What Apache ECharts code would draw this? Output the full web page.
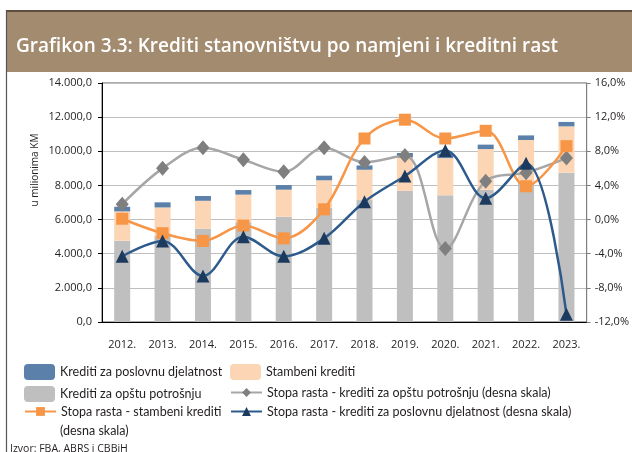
<!DOCTYPE html>
<html>
<head>
<meta charset="utf-8">
<script src="https://cdn.jsdelivr.net/npm/echarts@6/dist/echarts.min.js"></script>
<style>
  html, body { margin: 0; padding: 0; background: #fff; }
  #chart { width: 632px; height: 452px; }
</style>
</head>
<body>
<div id="chart"></div>
<script>
// godine
const years = ['2012.', '2013.', '2014.', '2015.', '2016.', '2017.', '2018.', '2019.', '2020.', '2021.', '2022.', '2023.'];

// u milionima KM (lijeva skala)
const opstaPotrosnja = [4760, 5040, 5460, 5840, 6170, 6690, 7140, 7680, 7420, 7750, 8170, 8750];
const stambeni = [1720, 1670, 1640, 1620, 1580, 1610, 1780, 1960, 2180, 2380, 2490, 2710];
const poslovna = [270, 300, 280, 270, 270, 270, 250, 260, 260, 260, 270, 260];

// stope rasta u % (desna skala)
const rastOpsta = [1.8, 6.0, 8.4, 7.0, 5.6, 8.4, 6.7, 7.5, -3.4, 4.5, 5.5, 7.2];
const rastStambeni = [0.1, -1.6, -2.5, -0.7, -2.2, 1.2, 9.5, 11.7, 9.5, 10.4, 3.9, 8.6];
const rastPoslovna = [-4.3, -2.5, -6.6, -2.0, -4.3, -2.2, 2.1, 5.1, 8.1, 2.5, 6.6, -11.1];

const FONT = '"Open Sans", "Noto Sans", sans-serif';
const LFONT = 'Lato, "Open Sans", sans-serif';

const fmtKM = v => {
    if (v === 0) return '0,0';
    const t = Math.floor(v / 1000);
    const r = String(v % 1000).padStart(3, '0');
    return t + '.' + r + ',0';
};
const fmtPct = v => v.toFixed(1).replace('.', ',') + '%';

const names = {
    poslovna: 'Krediti za poslovnu djelatnost',
    stambeni: 'Stambeni krediti',
    opsta: 'Krediti za opštu potrošnju',
    rastOpsta: 'Stopa rasta - krediti za opštu potrošnju (desna skala)',
    rastStambeni: 'Stopa rasta - stambeni krediti (desna skala)',
    rastPoslovna: 'Stopa rasta - krediti za poslovnu djelatnost (desna skala)',
};

const legendText = { fontFamily: LFONT, fontSize: 12.5, color: '#231f20' };
const mkLegend = (name, left, top, w, h, fmt) => ({
    data: [name],
    left, top,
    orient: 'horizontal',
    padding: 0,
    itemWidth: w,
    itemHeight: h,
    selectedMode: false,
    textStyle: legendText,
    formatter: fmt || (n => n),
});

const chart = echarts.init(document.getElementById('chart'), null, { renderer: 'canvas' });

const option = {
    backgroundColor: '#fff',
    animation: false,
    grid: {
        left: 102, right: 44, top: 83, bottom: 130,
        show: true, borderColor: '#595959', borderWidth: 1,
    },
    legend: [
        mkLegend(names.poslovna, 24, 364, 31, 16),
        mkLegend(names.opsta, 24, 386, 31, 16),
        mkLegend(names.rastStambeni, 24, 405, 31, 11, () => 'Stopa rasta - stambeni krediti'),
        mkLegend(names.stambeni, 230, 364, 31, 16),
        mkLegend(names.rastOpsta, 230, 386, 31, 11),
        mkLegend(names.rastPoslovna, 230, 405, 31, 11),
    ],
    xAxis: {
        type: 'category',
        data: years,
        axisLine: { lineStyle: { color: '#000', width: 1 } },
        axisTick: { show: false },
        axisLabel: { margin: 17, fontFamily: FONT, fontSize: 11, color: '#231f20' },
    },
    yAxis: [
        {
            type: 'value', min: 0, max: 14000, interval: 2000,
            axisLine: { show: true, lineStyle: { color: '#000' } },
            axisTick: { show: true, length: 4, lineStyle: { color: '#000' } },
            axisLabel: { formatter: fmtKM, margin: 10, fontFamily: FONT, fontSize: 11, color: '#231f20' },
            splitLine: { lineStyle: { color: '#bfbfbf', width: 1.2 } },
        },
        {
            type: 'value', min: -12, max: 16, interval: 4, position: 'right',
            axisLine: { show: true, lineStyle: { color: '#7f7f7f' } },
            axisTick: { show: true, length: 4, lineStyle: { color: '#7f7f7f' } },
            axisLabel: { formatter: fmtPct, margin: 8, fontFamily: FONT, fontSize: 11, color: '#231f20' },
            splitLine: { show: false },
        },
    ],
    series: [
        {
            name: names.opsta, type: 'bar', stack: 'krediti', barWidth: 16,
            itemStyle: { color: '#bfbfbf' }, data: opstaPotrosnja,
        },
        {
            name: names.stambeni, type: 'bar', stack: 'krediti', barWidth: 16,
            itemStyle: { color: '#fcd5b4' }, data: stambeni,
        },
        {
            name: names.poslovna, type: 'bar', stack: 'krediti', barWidth: 16,
            itemStyle: { color: '#5b80aa' }, data: poslovna,
        },
        {
            name: names.rastOpsta, type: 'line', yAxisIndex: 1, smooth: 0.35,
            symbol: 'diamond', symbolSize: [13, 15],
            lineStyle: { color: '#a6a6a6', width: 2.5 },
            itemStyle: { color: '#7f7f7f' }, data: rastOpsta, z: 3,
        },
        {
            name: names.rastStambeni, type: 'line', yAxisIndex: 1, smooth: 0.35,
            symbol: 'rect', symbolSize: 12,
            lineStyle: { color: '#f79646', width: 2.5 },
            itemStyle: { color: '#f79646' }, data: rastStambeni, z: 4,
        },
        {
            name: names.rastPoslovna, type: 'line', yAxisIndex: 1, smooth: 0.35,
            symbol: 'triangle', symbolSize: [13, 13],
            lineStyle: { color: '#2d5a8c', width: 2.5 },
            itemStyle: { color: '#1c3a5e' }, data: rastPoslovna, z: 5,
        },
    ],
    graphic: [
        { type: 'rect', shape: { x: 7, y: 10, width: 625, height: 2 }, style: { fill: '#5e4e3e' } },
        { type: 'rect', shape: { x: 7, y: 12, width: 625, height: 60 }, style: { fill: '#a38b70' } },
        { type: 'line', shape: { x1: 6.5, y1: 10, x2: 6.5, y2: 452 }, style: { stroke: '#555', lineWidth: 1.2 } },
        {
            type: 'text', x: 16, y: 47,
            style: {
                text: 'Grafikon 3.3: Krediti stanovništvu po namjeni i kreditni rast',
                fill: '#fff', font: '600 19px ' + FONT, verticalAlign: 'middle',
            },
        },
        {
            type: 'text', x: 35, y: 170, rotation: Math.PI / 2,
            style: {
                text: 'u milionima KM', fill: '#231f20', font: '10px ' + FONT,
                align: 'center', verticalAlign: 'middle',
            },
        },
        {
            type: 'text', x: 60, y: 431,
            style: { text: '(desna skala)', fill: '#231f20', font: '12.5px ' + LFONT, verticalAlign: 'middle' },
        },
        {
            type: 'text', x: 10, y: 449,
            style: { text: 'Izvor: FBA, ABRS i CBBiH', fill: '#231f20', font: '10.5px ' + FONT, verticalAlign: 'middle' },
        },
    ],
};

chart.setOption(option);
</script>
</body>
</html>
